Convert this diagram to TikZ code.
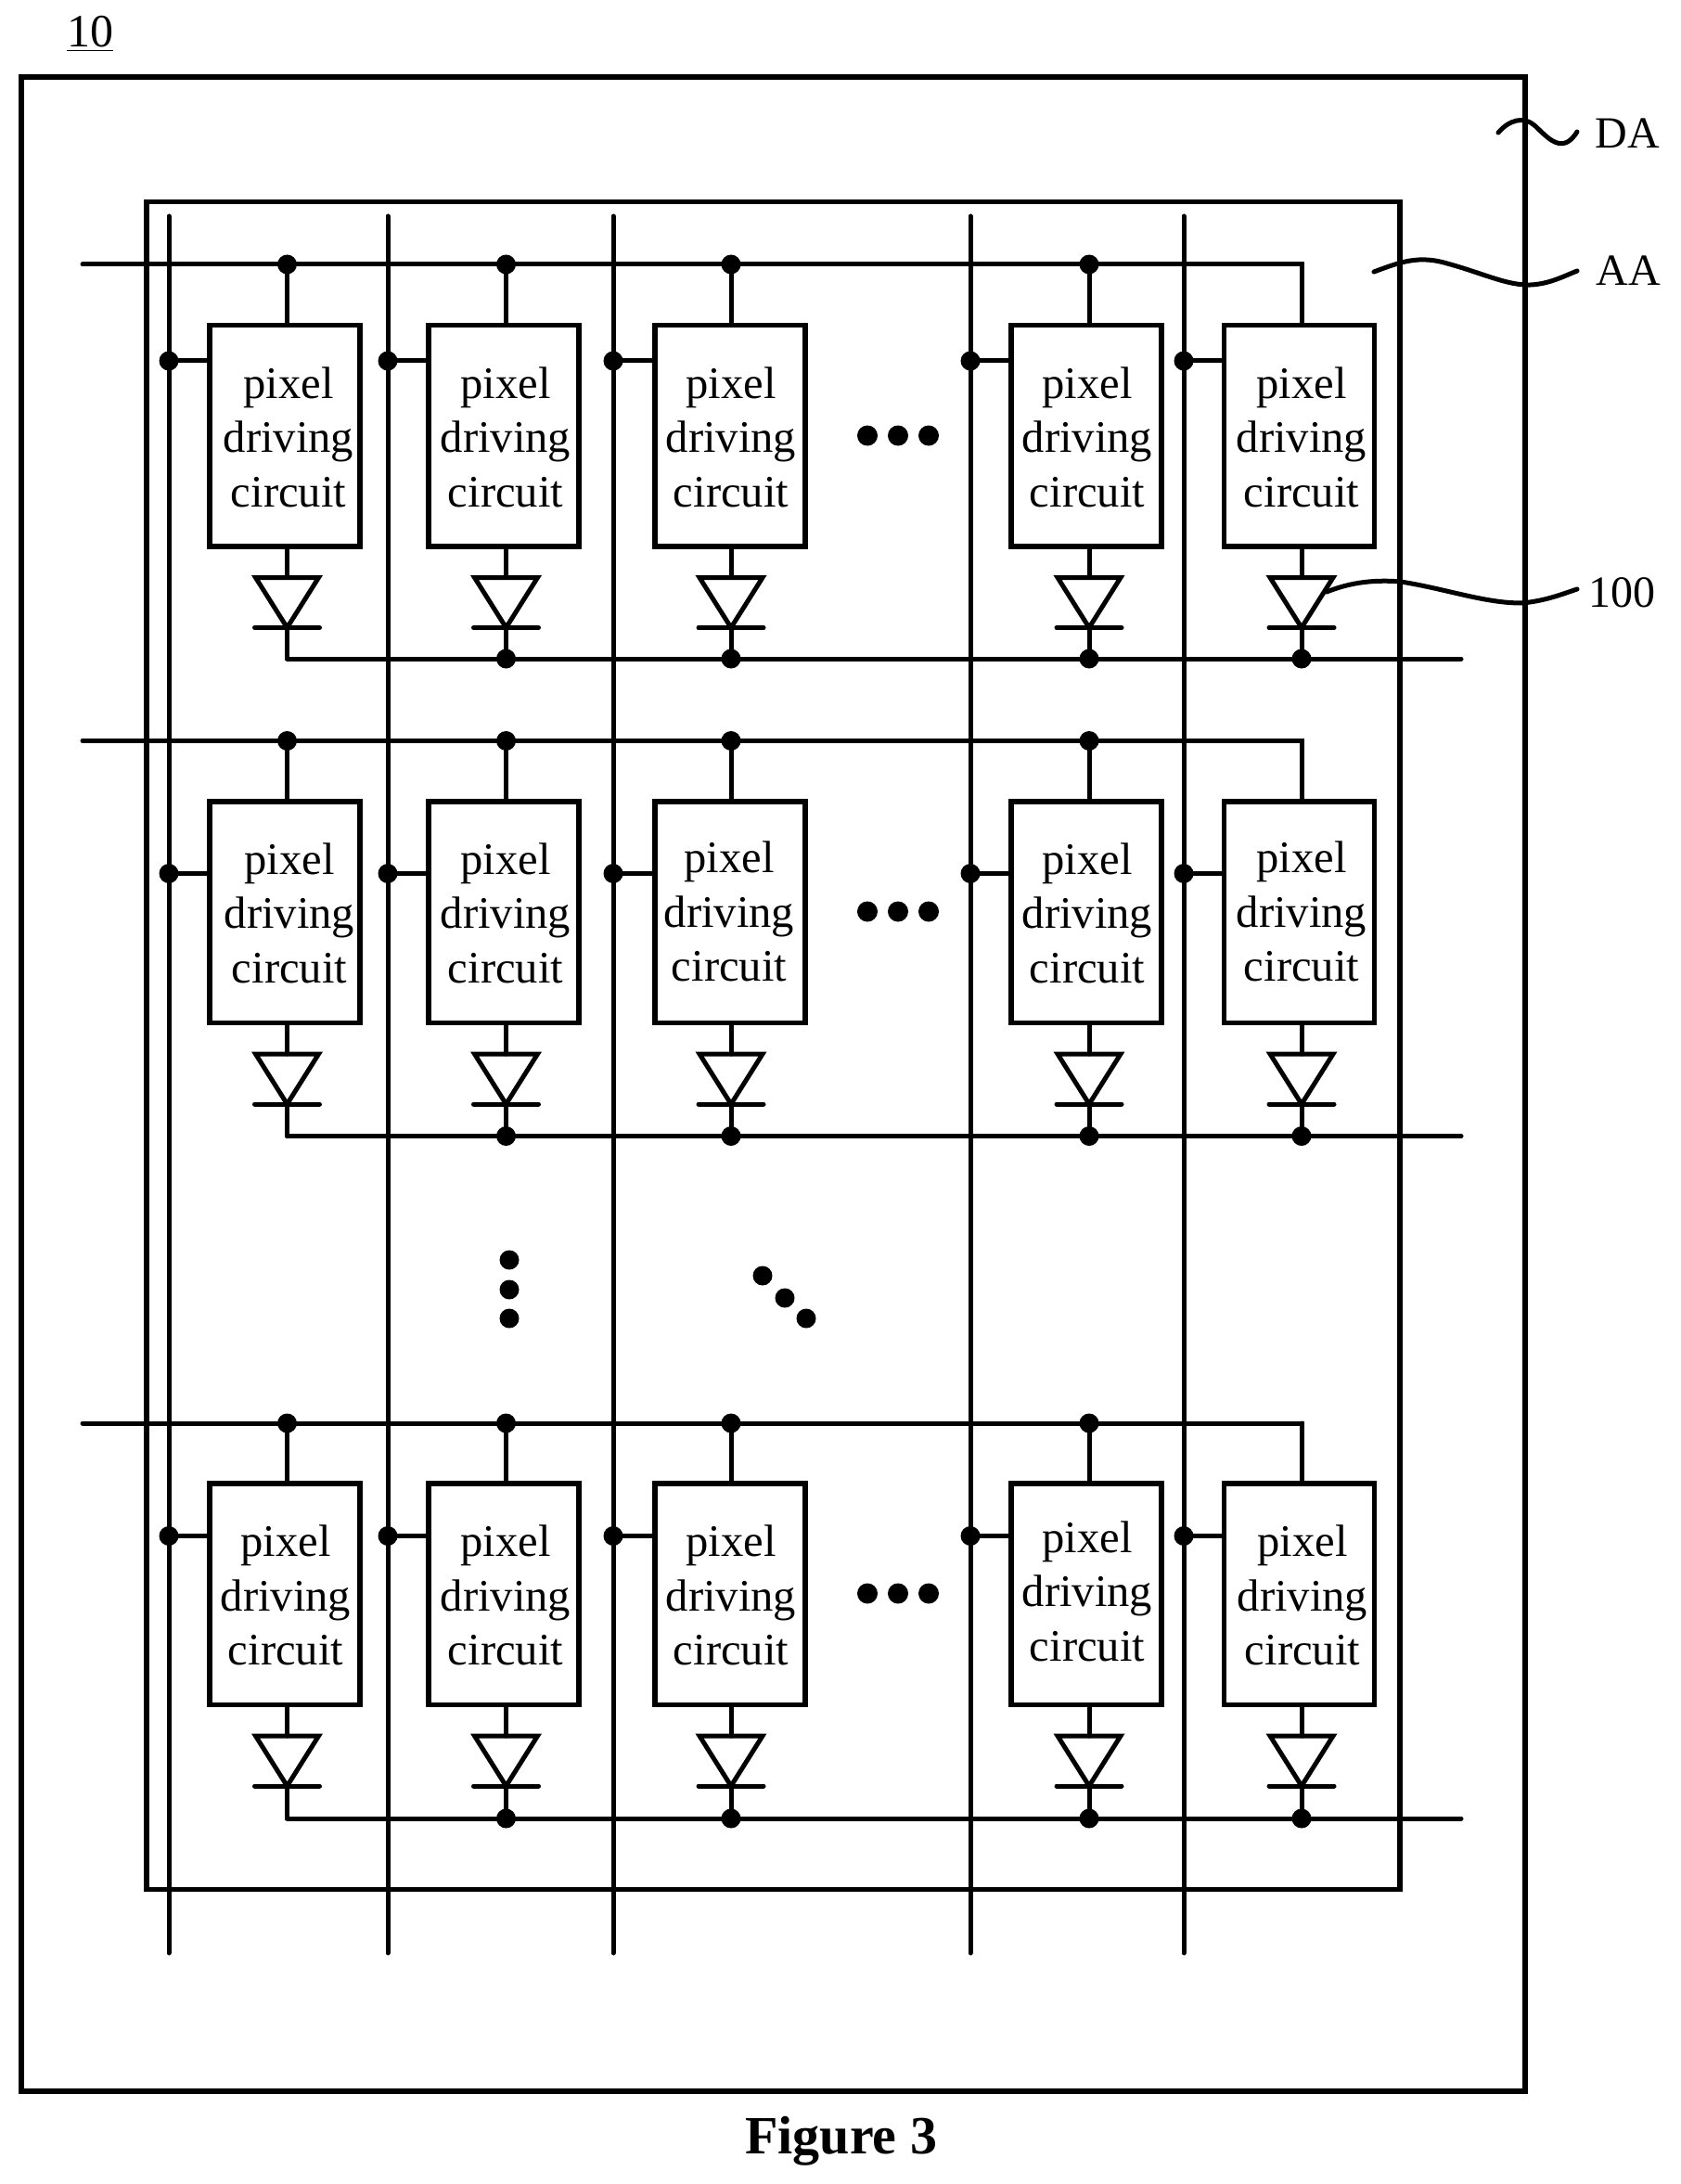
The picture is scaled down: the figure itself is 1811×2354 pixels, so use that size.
\documentclass[tikz,border=0pt]{standalone}
\usepackage{fontspec}
\setmainfont{Liberation Serif}
\tikzset{
  wire/.style={line width=2.5pt,line cap=round,line join=miter},
  frame/.style={line width=2.8pt,line join=miter},
  pixbox/.style={draw,line width=2.6pt,rectangle,outer sep=0pt,inner sep=0pt,anchor=north west,minimum width=81pt,minimum height=119.25pt},
  pixtext/.style={inner sep=0pt,align=center,font=\fontsize{24.3}{29.25}\selectfont},
  dot/.style={circle,fill=black,inner sep=0pt,outer sep=0pt,minimum size=10.5pt},
  bigdot/.style={circle,fill=black,inner sep=0pt,outer sep=0pt,minimum size=11pt},
  lab/.style={inner sep=0pt,anchor=base west,font=\fontsize{24}{29}\selectfont}
}
\begin{document}
\begin{tikzpicture}[x=0.5pt,y=-0.5pt]
\useasboundingbox (0,0) rectangle (1811,2354);
% frames
\node[draw,frame,rectangle,outer sep=0pt,inner sep=0pt,anchor=north west,minimum width=810.5pt,minimum height=1085.5pt] (DAbox) at (23,83) {};
\node[draw,frame,rectangle,outer sep=0pt,inner sep=0pt,anchor=north west,minimum width=675.5pt,minimum height=909.5pt] (AAbox) at (158,217.5) {};
% vertical lines
\foreach \c/\x in {1/182,2/418,3/661,4/1046,5/1276}{
  \coordinate (vt\c) at (\x,233);
  \coordinate (vb\c) at (\x,2105);
  \draw[wire] (vt\c) -- (vb\c);
}
% rows
\foreach \r/\bt/\tw/\tp/\bw in {1/350.5/285/389/710,2/864/798.5/941.5/1224.5,3/1599/1534/1655.5/1960}{
  \coordinate (tl\r) at (89,\tw);
  \coordinate (br\r) at (1575,\bw);
  \foreach \c/\bl/\vx/\wx in {1/226/182/309.5,2/462/418/545.5,3/706/661/788,4/1090/1046/1174,5/1319.5/1276/1403}{
    \node[pixbox] (b\r\c) at (\bl,\bt) {};
    \coordinate (t\r\c) at (\wx,\tw);
    \coordinate (w\r\c) at (\wx,\bw);
    \coordinate (tap\r\c) at (\vx,\tp);
    \node[dot] (td\r\c) at (tap\r\c) {};
    \draw[wire] (td\r\c) -- (td\r\c -| b\r\c.west);
    \draw[wire] (t\r\c) -- (t\r\c |- b\r\c.north);
    % diode
    \coordinate (ds\r\c) at (\wx,\bt+238.5);
    \coordinate (da\r\c) at (\wx,\bt+272);
    \coordinate (dl\r\c) at (\wx-34,\bt+272);
    \coordinate (dr\r\c) at (\wx+34,\bt+272);
    \coordinate (dk\r\c) at (\wx,\bt+326);
    \coordinate (kl\r\c) at (\wx-35,\bt+326);
    \coordinate (kr\r\c) at (\wx+35,\bt+326);
    \draw[wire] (ds\r\c) -- (da\r\c);
    \draw[wire,line join=miter] (dl\r\c) -- (dr\r\c) -- (dk\r\c) -- cycle;
    \draw[wire] (kl\r\c) -- (kr\r\c);
    \draw[wire] (dk\r\c) -- (w\r\c);
  }
  \draw[wire] (tl\r) -- (t\r5) -- (t\r5 |- b\r5.north);
  \draw[wire] (w\r1) -- (br\r);
  \foreach \c in {1,2,3,4}{ \node[dot] (dt\r\c) at (t\r\c) {}; }
  \foreach \c in {2,3,4,5}{ \node[dot] (dw\r\c) at (w\r\c) {}; }
}
% cell texts
\foreach \r/\c/\x/\y in {1/1/311/471,1/2/545/471,1/3/788/471,1/4/1172/471,1/5/1403/471,
  2/1/312/984,2/2/545/984,2/3/786/982.5,2/4/1172/984,2/5/1403/982.5,
  3/1/308/1719.5,3/2/545/1719.5,3/3/788/1719.5,3/4/1172/1715,3/5/1404/1719.5}{
  \node[pixtext] (txt\r\c) at (\x,\y) {pixel\\driving\\circuit};
}
% ellipsis dots
\foreach \r/\y in {1/469.5/,2/982.5,3/1717.5}{
  \foreach \i/\x in {1/935,2/968,3/1001}{ \node[bigdot] (e\r\i) at (\x,\y) {}; }
}
\foreach \i/\y in {1/1358,2/1390,3/1421}{ \node[dot] (vd\i) at (549,\y) {}; }
\foreach \i/\x/\y in {1/822/1375,2/846/1399,3/869/1421}{ \node[dot] (dd\i) at (\x,\y) {}; }
% leaders
\coordinate (DAs) at (1615,143);
\coordinate (DAe) at (1700,142);
\coordinate (AAs) at (1481,293);
\coordinate (AAe) at (1700,292);
\coordinate (Ps) at (1430,638);
\coordinate (Pe) at (1700,635);
\draw[wire] (DAs) .. controls (1626,130) and (1642,124) .. (1655,136) .. controls (1668,148) and (1684,168) .. (DAe);
\draw[wire] (AAs) .. controls (1510,282) and (1530,275) .. (1560,284) .. controls (1600,295) and (1625,308) .. (1650,307) .. controls (1670,306) and (1685,298) .. (AAe);
\draw[wire] (Ps) .. controls (1450,630) and (1475,624) .. (1510,627) .. controls (1560,635) and (1600,650) .. (1640,650) .. controls (1665,648) and (1685,640) .. (Pe);
% labels
\node[lab,font=\fontsize{25}{30}\selectfont] (L10) at (72,51) {\underline{10}};
\node[lab] (LDA) at (1719,160) {DA};
\node[lab] (LAA) at (1720,308) {AA};
\node[lab] (L100) at (1712,654) {100};
\node[inner sep=0pt,anchor=base west,font=\fontsize{29}{35}\selectfont\bfseries] (cap) at (803,2321) {Figure 3};
\end{tikzpicture}
\end{document}
